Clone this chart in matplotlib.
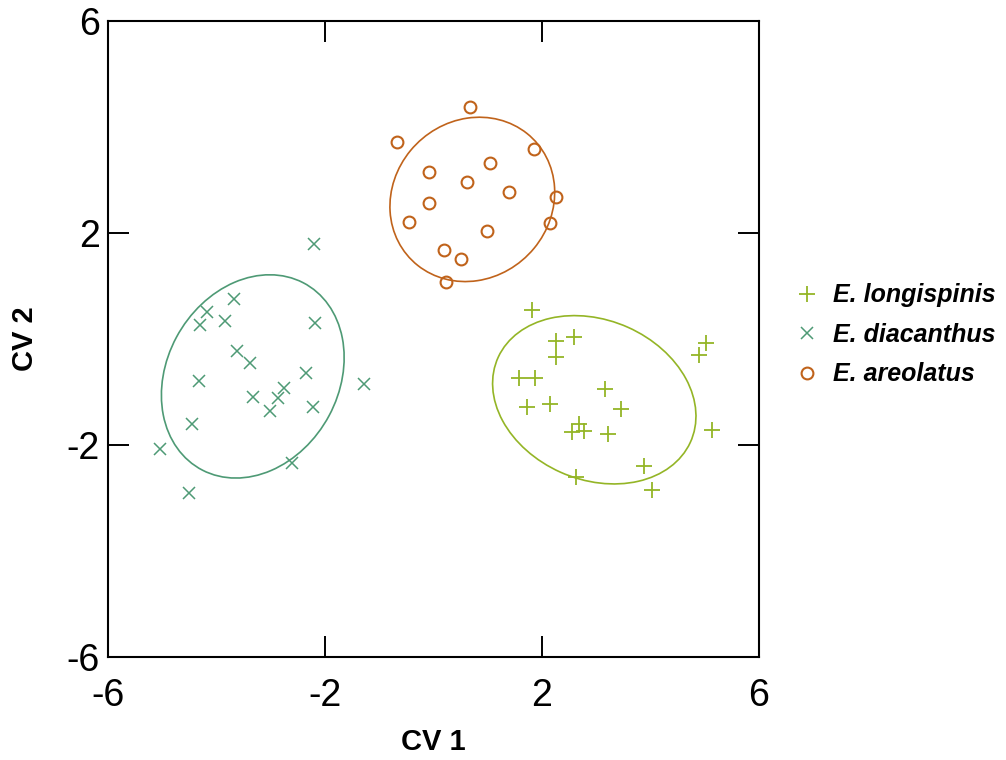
import numpy as np
import matplotlib
matplotlib.use("Agg")
import matplotlib.pyplot as plt
from matplotlib.patches import Ellipse

plt.rcParams['font.family'] = ['Liberation Sans', 'DejaVu Sans']

# canonical variate scores
longi_x = [1.82, 2.27, 2.59, 2.27, 5.03, 4.91, 1.59, 1.87, 3.16, 1.73,
           2.15, 3.47, 2.69, 2.56, 2.78, 3.22, 5.14, 3.89, 2.64, 4.04]
longi_y = [0.55, -0.03, 0.03, -0.34, -0.07, -0.31, -0.73, -0.73, -0.95, -1.29,
           -1.23, -1.32, -1.60, -1.76, -1.73, -1.79, -1.71, -2.40, -2.60, -2.85]

diac_x = [-2.20, -3.67, -4.18, -4.31, -3.84, -2.19, -3.63, -3.39, -2.35, -4.33,
          -1.28, -2.75, -3.32, -2.86, -3.02, -2.21, -4.46, -5.05, -2.60, -4.51]
diac_y = [1.79, 0.75, 0.50, 0.27, 0.34, 0.30, -0.22, -0.45, -0.64, -0.80,
          -0.85, -0.93, -1.10, -1.12, -1.35, -1.29, -1.60, -2.07, -2.34, -2.91]

areo_x = [0.68, -0.67, 1.85, 1.05, -0.08, 0.62, 1.40, 2.27, -0.07, -0.45,
          2.16, 1.00, 0.19, 0.51, 0.24]
areo_y = [4.38, 3.71, 3.58, 3.31, 3.15, 2.96, 2.76, 2.68, 2.56, 2.20,
          2.19, 2.03, 1.67, 1.50, 1.08]

# ellipses: centre, width, height, angle
longi_ell = [(2.97, -1.145), 3.89, 3.00, -24.5]
diac_ell = [(-3.33, -0.705), 3.99, 3.18, 62.3]
areo_ell = [(0.72, 2.63), 3.20, 2.93, 51.0]

names = ['E. longispinis', 'E. diacanthus', 'E. areolatus']
colors = ['#94b526', '#4e9a75', '#c0631b']

fig = plt.figure(figsize=(10.06, 7.6), dpi=100)
ax = fig.add_axes([0.1074, 0.1349, 0.6466, 0.8381])

ax.plot(longi_x, longi_y, ls='none', marker='+', ms=11, mew=1.3,
        color=colors[0], label=names[0])
ax.plot(diac_x, diac_y, ls='none', marker='x', ms=8, mew=1.1,
        color=colors[1], label=names[1])
ax.plot(areo_x, areo_y, ls='none', marker='o', ms=8.5, mew=1.5,
        mfc='none', color=colors[2], label=names[2])

for ell, c in zip([longi_ell, diac_ell, areo_ell], colors):
    ax.add_patch(Ellipse(ell[0], ell[1], ell[2], angle=ell[3],
                         fill=False, ec=c, lw=1.2))

ax.set_xlim(-6, 6)
ax.set_ylim(-6, 6)
ax.set_xticks([-6, -2, 2, 6])
ax.set_yticks([-6, -2, 2, 6])
ax.set_xticklabels(['-6', '-2', '2', '6'])
ax.set_yticklabels(['-6', '-2', '2', '6'])
ax.tick_params(direction='in', length=15, width=1.4, labelsize=27,
               top=True, right=True)
ax.tick_params(axis='x', pad=15)
ax.tick_params(axis='y', pad=6)
for s in ax.spines.values():
    s.set_linewidth(1.5)

ax.set_xlabel('CV 1', fontsize=21, fontweight='bold', labelpad=10)
ax.set_ylabel('CV 2', fontsize=21, fontweight='bold', labelpad=20)

ax.legend(loc='upper left', bbox_to_anchor=(0.791, 0.627),
          bbox_transform=fig.transFigure, frameon=False,
          prop={'size': 18, 'weight': 'bold', 'style': 'italic'},
          handlelength=0.9, handletextpad=0.6, labelspacing=0.62,
          borderpad=0, borderaxespad=0)

fig.savefig('out.png', dpi=100)
